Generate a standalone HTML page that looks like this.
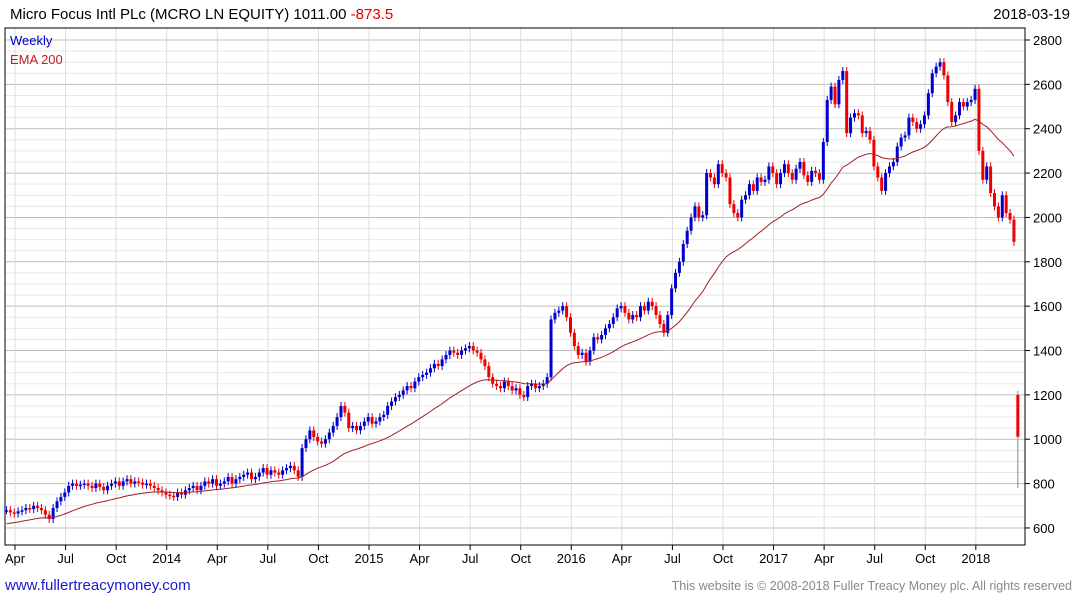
<!DOCTYPE html>
<html><head><meta charset="utf-8"><style>
body{margin:0;background:#fff;width:1075px;height:600px;overflow:hidden;font-family:"Liberation Sans",sans-serif}
</style></head><body>
<svg id="chart" width="1075" height="600" xmlns="http://www.w3.org/2000/svg" font-family="Liberation Sans, sans-serif">
<text x="10" y="19" font-size="15" fill="#000">Micro Focus Intl PLc (MCRO LN EQUITY) 1011.00 <tspan fill="#e00000">-873.5</tspan></text>
<text x="1070" y="19" font-size="15" fill="#000" text-anchor="end">2018-03-19</text>
<g id="grid"></g>
<g id="marks"></g>
<rect x="5" y="28" width="1020" height="517" fill="none" stroke="#000" stroke-width="1"/>
<text x="10" y="45" font-size="13" fill="#0000cc">Weekly</text>
<text x="10" y="64" font-size="13" fill="#c02020">EMA 200</text>
<g id="axes"></g>
<text x="5" y="590" font-size="15" fill="#1a1acc">www.fullertreacymoney.com</text>
<text x="1072" y="590" font-size="12.5" fill="#888" text-anchor="end">This website is © 2008-2018 Fuller Treacy Money plc. All rights reserved</text>
</svg>
<script>
const closes=[680,670,665,675,680,690,685,700,690,680,
660,640,690,720,740,760,790,800,790,795,
800,790,780,800,785,770,790,800,810,790,
810,820,800,810,805,795,800,790,780,770,
760,750,745,740,760,750,770,780,790,770,
790,810,800,820,790,800,810,830,800,820,
830,840,850,820,830,850,870,840,860,850,
840,860,870,880,860,830,960,1000,1040,1010,
990,980,1000,1030,1060,1100,1150,1120,1050,1060,
1040,1060,1080,1100,1070,1080,1100,1110,1150,1170,
1190,1200,1220,1240,1230,1260,1280,1290,1300,1320,
1340,1330,1360,1380,1400,1390,1380,1400,1410,1420,
1400,1390,1360,1330,1280,1250,1240,1230,1260,1240,
1220,1230,1200,1190,1240,1250,1230,1240,1250,1280,
1540,1570,1580,1600,1550,1480,1420,1380,1390,1350,
1400,1460,1450,1470,1500,1520,1550,1590,1600,1570,
1540,1560,1550,1600,1580,1620,1600,1560,1520,1480,
1560,1680,1750,1800,1880,1940,2000,2050,2000,2010,
2200,2180,2150,2240,2200,2180,2060,2020,2000,2080,
2100,2150,2120,2180,2160,2170,2230,2200,2150,2200,
2240,2200,2170,2220,2250,2190,2160,2210,2200,2170,
2340,2530,2590,2510,2620,2660,2380,2450,2470,2460,
2380,2390,2350,2230,2180,2120,2200,2230,2250,2320,
2360,2370,2450,2430,2400,2420,2460,2560,2650,2680,
2700,2640,2520,2430,2460,2520,2500,2520,2530,2580,
2300,2170,2230,2110,2050,2000,2100,2020,1990,1890,
1011];
const lastOpen=1200;
const lastLow=780;
const emaStart=615;
const yTicks=[600,800,1000,1200,1400,1600,1800,2000,2200,2400,2600,2800];
const xLabels=["Apr","Jul","Oct","2014","Apr","Jul","Oct","2015","Apr","Jul","Oct","2016","Apr","Jul","Oct","2017","Apr","Jul","Oct","2018"];
const xLabelWeeks=[0,13,26,39,52,65,78,91,104,117,130,143,156,169,182,195,208,221,234,247];

const NS="http://www.w3.org/2000/svg";
const yS=v=>40+(2800-v)*0.2218;
const xW=w=>15+w*3.89;          // weeks since 2013-04-01
const xI=i=>xW(i-2.2);
function mk(tag,attrs,parent){const e=document.createElementNS(NS,tag);for(const k in attrs)e.setAttribute(k,attrs[k]);parent.appendChild(e);return e;}
const grid=document.getElementById('grid'),marks=document.getElementById('marks'),axes=document.getElementById('axes');
for(let v=600;v<=2800;v+=50){
  const g=mk('line',{x1:5,x2:1025,y1:yS(v),y2:yS(v),stroke:v%200===0?'#bdbdbd':'#e8e8e8','stroke-width':1},grid);
  
  
}
xLabelWeeks.forEach((w,k)=>{
  const x=xW(w);
  const g=mk('line',{x1:x,x2:x,y1:28,y2:545,stroke:'#dcdcdc','stroke-width':1},grid);
  
  
  const t=mk('line',{x1:x,x2:x,y1:545,y2:550,stroke:'#000'},axes);
  
  
  const l=mk('text',{x:x,y:563,'font-size':13,'text-anchor':'middle',fill:'#000'},axes);
  l.textContent=xLabels[k];
  
  
});
yTicks.forEach(v=>{
  const t=mk('line',{x1:1025,x2:1030,y1:yS(v),y2:yS(v),stroke:'#000'},axes);
  
  
  const l=mk('text',{x:1033,y:yS(v)+5,'font-size':13,fill:'#000'},axes);
  l.textContent=v;
  
  
});
let ema=emaStart,pts=[];
const a=2/35;
closes.forEach((c,i)=>{
  const last=i===closes.length-1;
  const o=last?lastOpen:(i===0?c:closes[i-1]);
  const hi=Math.max(o,c)+18, lo=last?lastLow:Math.min(o,c)-18;
  const x=xI(i), col=c>=o?'#0000cc':'#ee0000';
  const w=mk('line',{x1:x,x2:x,y1:yS(hi),y2:yS(lo),stroke:last?'#888':col,'stroke-width':1},marks);
  
  
  const top=yS(Math.max(o,c)),h=Math.max(1.5,yS(Math.min(o,c))-top);
  const b=mk('rect',{x:x-1.5,y:top,width:3,height:h,fill:col},marks);
  
  
  if(!last){ema=ema+a*(c-ema);pts.push(x.toFixed(1)+','+yS(ema).toFixed(1));}
});
const p=mk('polyline',{points:pts.join(' '),fill:'none',stroke:'#a02020','stroke-width':1},marks);


</script>
</body></html>
